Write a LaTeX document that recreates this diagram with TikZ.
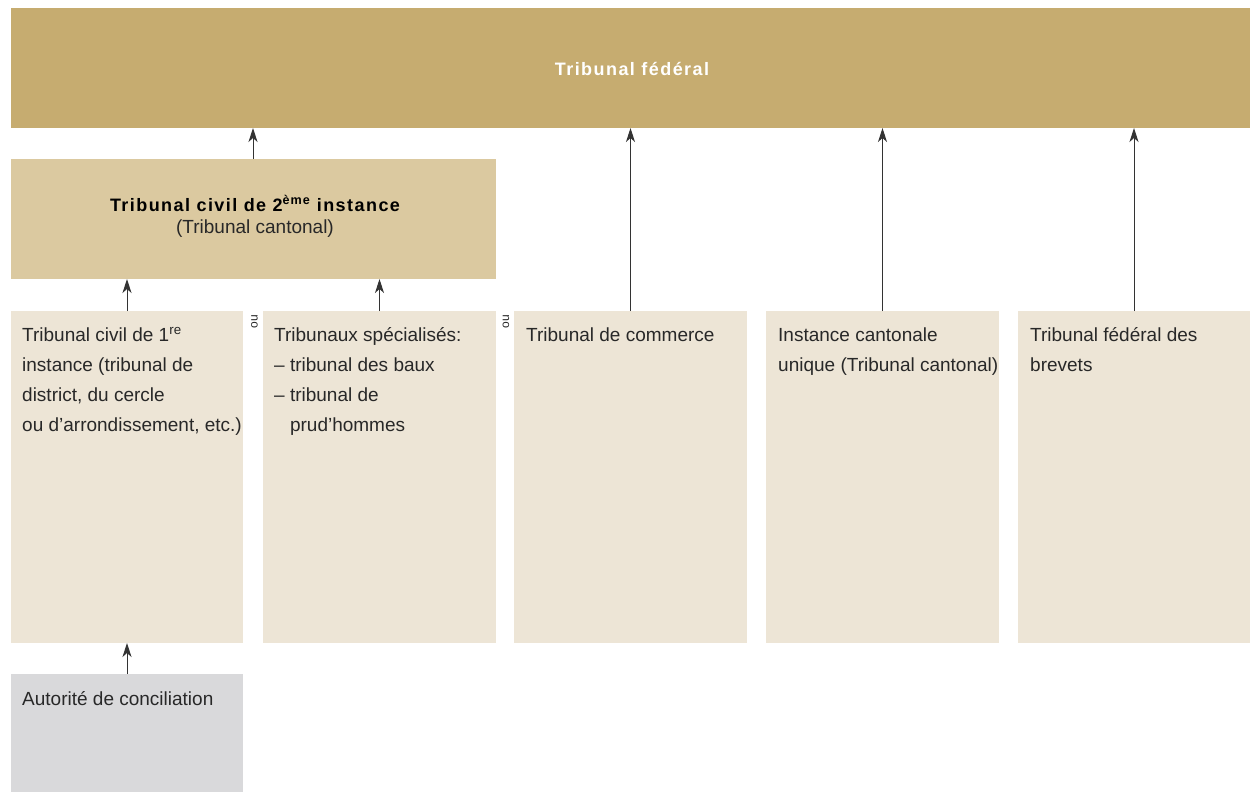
\documentclass[tikz,border=0pt]{standalone}
\usepackage{fontspec}
\setmainfont{Liberation Sans}
\usetikzlibrary{arrows.meta}
\definecolor{fedc}{RGB}{198,172,112}
\definecolor{secc}{RGB}{219,201,160}
\definecolor{rowc}{RGB}{237,229,214}
\definecolor{grayc}{RGB}{217,217,219}
\definecolor{txtc}{RGB}{40,40,40}
\newcommand{\topstrut}{\rule{0pt}{15pt}}
\begin{document}
\begin{tikzpicture}[x=1pt,y=-1pt,
  box/.style={draw=none, inner sep=0pt, outer sep=0pt, anchor=north west},
  rowbox/.style={box, fill=rowc, minimum width=232pt, minimum height=332pt},
  lbl/.style={anchor=north west, inner sep=0pt, align=left, text=txtc, font=\fontsize{19}{30}\selectfont},
  ttl/.style={anchor=base, inner sep=0pt, align=center, font=\fontsize{18}{22}\selectfont\bfseries\addfontfeatures{LetterSpace=8}},
  orl/.style={rotate=90, inner sep=0pt, text=txtc, font=\fontsize{12}{12}\selectfont},
  arr/.style={-{Stealth[length=14pt,width=9pt,inset=4pt]}, line width=1pt, draw=black!80}]
\useasboundingbox (0,0) rectangle (1250,792);

\node[box, fill=fedc, minimum width=1239pt, minimum height=120pt] (fed) at (11,8) {};
\node[box, fill=secc, minimum width=485pt, minimum height=120pt] (sec) at (11,159) {};
\node[rowbox, minimum width=232pt] (r1) at (11,311) {};
\node[rowbox, minimum width=233pt] (r2) at (263,311) {};
\node[rowbox, minimum width=233pt] (r3) at (514,311) {};
\node[rowbox, minimum width=233pt] (r4) at (766,311) {};
\node[rowbox, minimum width=232pt] (r5) at (1018,311) {};
\node[box, fill=grayc, minimum width=232pt, minimum height=118pt] (conc) at (11,674) {};

\node[ttl, text=white] (fedt) at (632,75) {Tribunal fédéral};
\node[ttl, text=black] (sect) at (255,211) {Tribunal civil de 2\textsuperscript{ème} instance};
\node[anchor=base, inner sep=0pt, text=txtc, font=\fontsize{19}{30}\selectfont] (secs) at (255,233) {(Tribunal cantonal)};

\node[lbl] (r1t) at (22,326) {\topstrut Tribunal civil de 1\textsuperscript{re}\\instance (tribunal de\\district, du cercle\\ou d’arrondissement, etc.)};
\node[lbl] (r2t) at (274,326) {\topstrut Tribunaux spécialisés:\\– tribunal des baux\\– tribunal de\\\hphantom{– }prud’hommes};
\node[lbl] (r3t) at (526,326) {\topstrut Tribunal de commerce};
\node[lbl] (r4t) at (778,326) {\topstrut Instance cantonale\\unique (Tribunal cantonal)};
\node[lbl] (r5t) at (1030,326) {\topstrut Tribunal fédéral des\\brevets};
\node[lbl] (conct) at (22,690) {\topstrut Autorité de conciliation};

\node[orl] (ou1) at (254.5,321.5) {ou};
\node[orl] (ou2) at (506,321.5) {ou};

\draw[arr] (sec.north -| 253,0) -- (fed.south -| 253,0);
\draw[arr] (r1.north) -- (sec.south -| r1.north);
\draw[arr] (r2.north) -- (sec.south -| r2.north);
\draw[arr] (r3.north) -- (fed.south -| r3.north);
\draw[arr] (r4.north) -- (fed.south -| r4.north);
\draw[arr] (r5.north) -- (fed.south -| r5.north);
\draw[arr] (conc.north) -- (r1.south);
\end{tikzpicture}
\end{document}
